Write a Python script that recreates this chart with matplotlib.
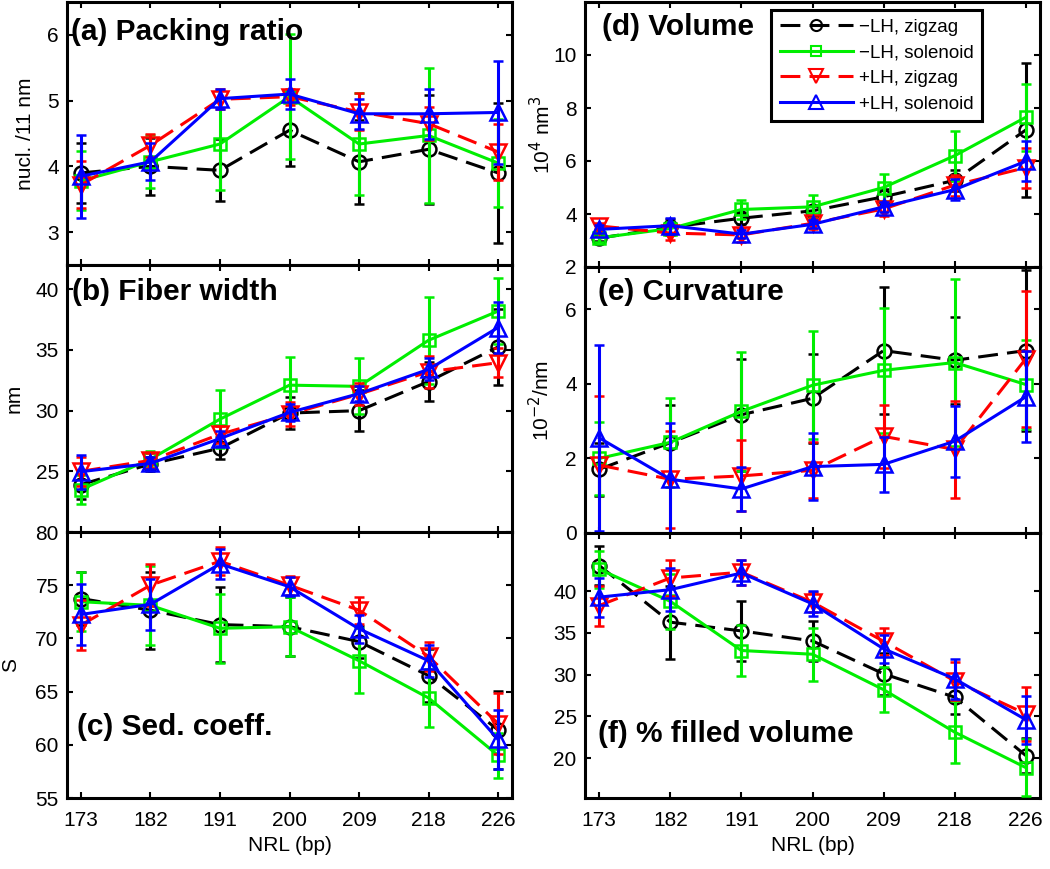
import matplotlib
matplotlib.use("Agg")
import matplotlib.pyplot as plt
from matplotlib.ticker import FixedLocator
from matplotlib.lines import Line2D

plt.rcParams['font.family'] = ['Liberation Sans', 'DejaVu Sans']

# ---------------- data ----------------
nrl_labels = ['173', '182', '191', '200', '209', '218', '226']
series_names = ['\u2212LH, zigzag', '\u2212LH, solenoid', '+LH, zigzag', '+LH, solenoid']

# (a) packing ratio (nucl./11 nm)
pack_mz = [3.90, 4.00, 3.94, 4.55, 4.07, 4.26, 3.90]
pack_mz_err = [0.45, 0.43, 0.47, 0.55, 0.64, 0.83, 1.07]
pack_ms = [3.78, 4.07, 4.34, 5.06, 4.34, 4.47, 4.05]
pack_ms_err = [0.45, 0.40, 0.70, 0.95, 0.78, 1.02, 0.67]
pack_pz = [3.72, 4.32, 5.02, 5.06, 4.83, 4.65, 4.22]
pack_pz_err = [0.36, 0.17, 0.15, 0.12, 0.28, 0.25, 0.42]
pack_ps = [3.85, 4.07, 5.03, 5.10, 4.80, 4.80, 4.82]
pack_ps_err = [0.63, 0.28, 0.15, 0.23, 0.23, 0.38, 0.78]

# (b) fiber width (nm)
width_mz = [23.9, 25.6, 26.9, 29.8, 30.0, 32.4, 35.25]
width_mz_err = [1.2, 0.6, 0.9, 1.3, 1.7, 1.6, 3.1]
width_ms = [23.5, 26.0, 29.3, 32.1, 32.0, 35.8, 38.2]
width_ms_err = [1.2, 0.7, 2.4, 2.35, 2.3, 3.6, 2.7]
width_pz = [25.0, 25.9, 28.05, 29.7, 31.35, 33.2, 33.95]
width_pz_err = [1.2, 0.6, 0.7, 1.0, 0.9, 1.3, 1.2]
width_ps = [24.97, 25.65, 27.7, 29.85, 31.4, 33.4, 36.85]
width_ps_err = [1.4, 0.5, 0.6, 0.7, 0.6, 0.9, 2.1]

# (c) sedimentation coefficient (S)
sed_mz = [73.75, 72.65, 71.3, 71.1, 69.7, 66.5, 61.4]
sed_mz_err = [2.5, 3.6, 3.55, 2.8, 1.5, 2.5, 3.65]
sed_ms = [73.45, 73.1, 70.95, 71.1, 67.9, 64.4, 59.0]
sed_ms_err = [2.8, 3.7, 3.25, 2.8, 3.05, 2.75, 2.1]
sed_pz = [71.25, 75.0, 77.25, 75.0, 72.65, 68.3, 62.0]
sed_pz_err = [2.35, 2.0, 1.3, 0.9, 1.25, 1.4, 2.85]
sed_ps = [72.25, 73.2, 77.0, 74.85, 70.9, 67.9, 60.5]
sed_ps_err = [2.9, 2.4, 1.4, 0.9, 1.3, 1.5, 2.8]

# (d) volume (10^4 nm^3)
vol_mz = [3.09, 3.50, 3.84, 4.12, 4.65, 5.27, 7.17]
vol_mz_err = [0.10, 0.30, 0.20, 0.20, 0.30, 0.40, 2.53]
vol_ms = [3.10, 3.45, 4.17, 4.27, 5.00, 6.20, 7.65]
vol_ms_err = [0.15, 0.25, 0.35, 0.43, 0.50, 0.95, 1.27]
vol_pz = [3.55, 3.28, 3.21, 3.65, 4.19, 5.09, 5.75]
vol_pz_err = [0.10, 0.25, 0.25, 0.20, 0.25, 0.40, 0.75]
vol_ps = [3.42, 3.56, 3.24, 3.61, 4.27, 4.92, 5.99]
vol_ps_err = [0.15, 0.30, 0.15, 0.15, 0.20, 0.40, 0.75]

# (e) curvature (10^-2/nm)
curv_mz = [1.71, 2.42, 3.17, 3.61, 4.89, 4.63, 4.89]
curv_mz_err = [0.71, 1.00, 1.50, 1.20, 1.70, 1.17, 2.15]
curv_ms = [2.00, 2.43, 3.26, 3.96, 4.36, 4.57, 3.98]
curv_ms_err = [0.97, 1.20, 1.60, 1.45, 1.68, 2.25, 1.20]
curv_pz = [1.82, 1.44, 1.53, 1.68, 2.59, 2.24, 4.67]
curv_pz_err = [1.85, 1.30, 0.95, 0.75, 0.85, 1.30, 1.83]
curv_ps = [2.55, 1.44, 1.18, 1.78, 1.84, 2.46, 3.65]
curv_ps_err = [2.50, 1.50, 0.58, 0.90, 0.73, 0.95, 1.22]

# (f) % filled volume
fill_mz = [43.1, 36.3, 35.25, 34.05, 30.1, 27.3, 20.3]
fill_mz_err = [2.3, 4.4, 3.55, 2.45, 2.5, 2.0, 2.1]
fill_ms = [42.65, 38.8, 32.9, 32.45, 28.2, 23.1, 18.85]
fill_ms_err = [2.2, 3.3, 3.05, 3.2, 2.7, 3.7, 3.4]
fill_pz = [38.3, 41.6, 42.3, 38.7, 34.0, 29.25, 25.3]
fill_pz_err = [2.4, 2.2, 1.5, 1.2, 1.6, 2.3, 3.2]
fill_ps = [39.3, 40.2, 42.2, 38.5, 33.1, 29.5, 24.6]
fill_ps_err = [2.35, 2.6, 1.5, 1.5, 1.7, 2.4, 2.9]

# ---------------- style ----------------
colors = ['black', '#00ee00', '#ff0000', '#0000ff']
markers = ['o', 's', 'v', '^']
msizes = [10, 9, 12, 12]
dash = (0, (6.5, 3.0))
lstyles = [dash, '-', dash, '-']

fig = plt.figure(figsize=(10.5, 8.69), dpi=100)
W, H = 1050.0, 869.0

def make_ax(x0, x1, ytop, ybot):
    return fig.add_axes([x0 / W, 1 - ybot / H, (x1 - x0) / W, (ybot - ytop) / H])

axa = make_ax(67, 512, 2, 265)
axb = make_ax(67, 512, 265, 532)
axc = make_ax(67, 512, 532, 798)
axd = make_ax(585, 1040, 2, 267)
axe = make_ax(585, 1040, 267, 533)
axf = make_ax(585, 1040, 533, 798)

xs = list(range(1, len(nrl_labels) + 1))

panels = [
    (axa, [pack_mz, pack_ms, pack_pz, pack_ps], [pack_mz_err, pack_ms_err, pack_pz_err, pack_ps_err],
     (2.5, 6.5), [3, 4, 5, 6], 'nucl. /11 nm', '(a) Packing ratio', (0.01, 0.886), -0.072),
    (axb, [width_mz, width_ms, width_pz, width_ps], [width_mz_err, width_ms_err, width_pz_err, width_ps_err],
     (20, 42), [25, 30, 35, 40], 'nm', '(b) Fiber width', (0.012, 0.90), -0.098),
    (axc, [sed_mz, sed_ms, sed_pz, sed_ps], [sed_mz_err, sed_ms_err, sed_pz_err, sed_ps_err],
     (55, 80), [55, 60, 65, 70, 75, 80], 'S', '(c) Sed. coeff.', (0.022, 0.267), -0.105),
    (axd, [vol_mz, vol_ms, vol_pz, vol_ps], [vol_mz_err, vol_ms_err, vol_pz_err, vol_ps_err],
     (2, 12), [2, 4, 6, 8, 10], r'10$^4$ nm$^3$', '(d) Volume', (0.037, 0.906), -0.068),
    (axe, [curv_mz, curv_ms, curv_pz, curv_ps], [curv_mz_err, curv_ms_err, curv_pz_err, curv_ps_err],
     (0, 7.13), [0, 2, 4, 6], r'10$^{-2}$/nm', '(e) Curvature', (0.029, 0.906), -0.070),
    (axf, [fill_mz, fill_ms, fill_pz, fill_ps], [fill_mz_err, fill_ms_err, fill_pz_err, fill_ps_err],
     (15.2, 47), [20, 25, 30, 35, 40], None, '(f) % filled volume', (0.029, 0.24), None),
]

for ax, vals, errs, ylim, yticks, ylabel, title, tpos, lab_x in panels:
    for k in range(4):
        ax.errorbar(xs, vals[k], yerr=errs[k], color=colors[k], linestyle=lstyles[k],
                    linewidth=2.2, marker=markers[k], markersize=msizes[k],
                    markerfacecolor='none', markeredgewidth=1.8,
                    elinewidth=2.2, capsize=3.5, capthick=2.2, zorder=3 + k,
                    clip_on=True)
    ax.set_xlim(0.8, 7.2)
    ax.set_ylim(*ylim)
    ax.xaxis.set_major_locator(FixedLocator(xs))
    ax.yaxis.set_major_locator(FixedLocator(yticks))
    ax.tick_params(direction='in', length=4, width=1.5, top=True, right=True,
                   labelsize=15, pad=6)
    ax.tick_params(axis='x', pad=9)
    for s in ax.spines.values():
        s.set_linewidth(2.2)
    if ax in (axc, axf):
        ax.set_xticklabels(nrl_labels)
        ax.set_xlabel('NRL (bp)', fontsize=15, labelpad=5)
    else:
        ax.set_xticklabels([])
    if ylabel:
        ax.set_ylabel(ylabel, fontsize=15)
        ax.yaxis.set_label_coords(lab_x, 0.5)
    ax.text(tpos[0], tpos[1], title, transform=ax.transAxes, fontsize=21.5,
            fontweight='bold', ha='left', va='center', zorder=10)

legend_handles = [Line2D([], [], color=colors[k], linestyle=lstyles[k], linewidth=2.2,
                         marker=markers[k], markersize=msizes[k] * 0.8,
                         markerfacecolor='none', markeredgewidth=1.5)
                  for k in range(4)]
leg = axd.legend(handles=legend_handles, labels=series_names, loc='upper left',
                 bbox_to_anchor=(0.409, 0.97), fontsize=13.5, handlelength=3.9,
                 frameon=True, fancybox=False, borderpad=0.45,
                 labelspacing=0.45, handletextpad=0.35, borderaxespad=0)
leg.get_frame().set_edgecolor('black')
leg.get_frame().set_linewidth(2.2)
leg.get_frame().set_alpha(1)
leg.set_zorder(20)

fig.savefig('out.png', dpi=100)
